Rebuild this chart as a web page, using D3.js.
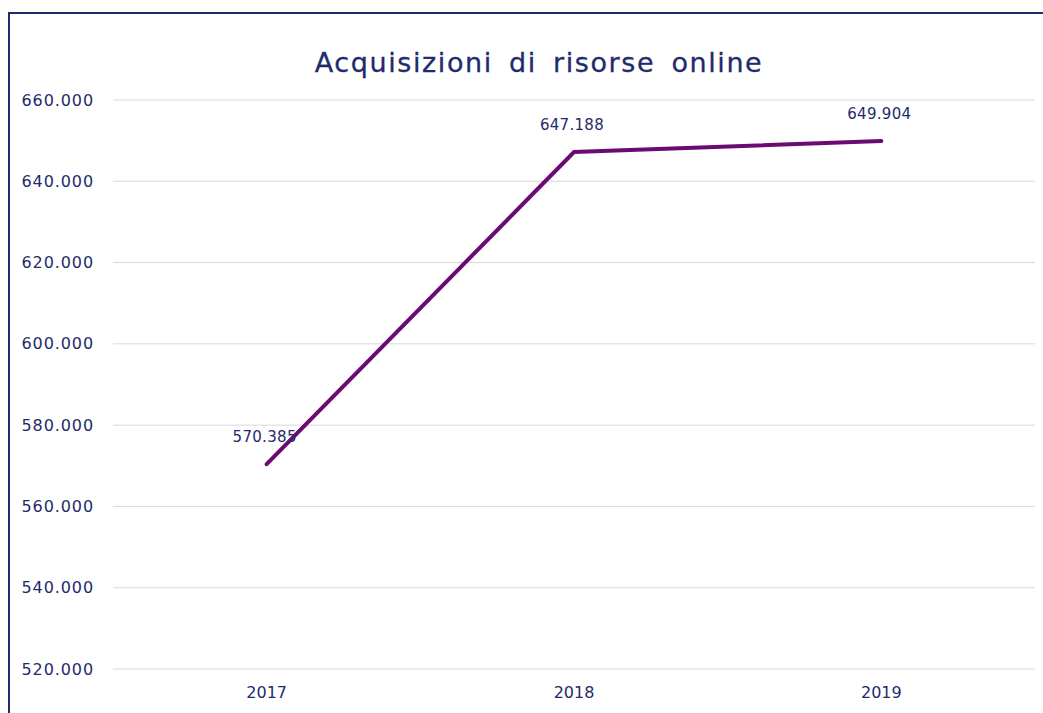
<!DOCTYPE html>
<html>
<head>
<meta charset="utf-8">
<script src="https://cdn.jsdelivr.net/npm/d3@7"></script>
<style>
  body { margin: 0; background: #fff; }
  text { font-family: "DejaVu Sans", Verdana, sans-serif; }
</style>
</head>
<body>
<div id="chart"></div>
<script>
var years = ["2017", "2018", "2019"];
var acquisizioni = [570385, 647188, 649904];
var yTicks = [520000, 540000, 560000, 580000, 600000, 620000, 640000, 660000];
var titolo = "Acquisizioni di risorse online";

var w = 1043, h = 713;
var navy = "#1f2b6b";

var it = d3.formatLocale({decimal: ",", thousands: ".", grouping: [3], currency: ["€", ""]});
var fmt = it.format(",d");

var svg = d3.select("#chart").append("svg")
  .attr("width", w).attr("height", h);

// chart frame
svg.append("rect")
  .attr("x", 9).attr("y", 13)
  .attr("width", 1080).attr("height", 760)
  .attr("fill", "none")
  .attr("stroke", navy)
  .attr("stroke-width", 2);

svg.append("text")
  .attr("x", 539).attr("y", 72)
  .attr("text-anchor", "middle")
  .attr("fill", navy)
  .style("font-size", "27px")
  .style("letter-spacing", "1.6px")
  .style("word-spacing", "6px")
  .style("stroke", navy)
  .style("stroke-width", "0.3px")
  .text(titolo);

var x = d3.scaleBand().domain(years).range([113, 1035]);
var y = d3.scaleLinear().domain([520000, 660000]).range([669, 100]);

// gridlines
svg.append("g")
  .selectAll("line")
  .data(yTicks)
  .enter().append("line")
  .attr("x1", 113).attr("x2", 1035)
  .attr("y1", d => y(d)).attr("y2", d => y(d))
  .attr("stroke", "#d9d9d9")
  .attr("stroke-width", 1);

var yAxis = d3.axisLeft(y).tickValues(yTicks).tickFormat(fmt).tickSize(0).tickPadding(0);
var gy = svg.append("g")
  .attr("transform", "translate(94,0)")
  .call(yAxis);
gy.select(".domain").remove();
gy.selectAll("text").attr("fill", navy)
  .style("font-size", "16px")
  .style("letter-spacing", "0.9px");

var xAxis = d3.axisBottom(x).tickSize(0).tickPadding(0);
var gx = svg.append("g")
  .attr("transform", "translate(0,687)")
  .call(xAxis);
gx.select(".domain").remove();
gx.selectAll("text").attr("fill", navy).style("font-size", "16px");

var cx = d => x(d) + x.bandwidth() / 2;

var line = d3.line()
  .x((d, i) => cx(years[i]))
  .y(d => y(d));

svg.append("path")
  .datum(acquisizioni)
  .attr("d", line)
  .attr("fill", "none")
  .attr("stroke", "#6b0a70")
  .attr("stroke-width", 4)
  .attr("stroke-linecap", "round");

svg.append("g")
  .selectAll("text")
  .data(acquisizioni)
  .enter().append("text")
  .attr("x", (d, i) => cx(years[i]) - 2)
  .attr("y", d => y(d) - 22)
  .attr("text-anchor", "middle")
  .attr("fill", navy)
  .style("font-size", "15px")
  .style("letter-spacing", "0.3px")
  .text(d => fmt(d));
</script>
</body>
</html>
